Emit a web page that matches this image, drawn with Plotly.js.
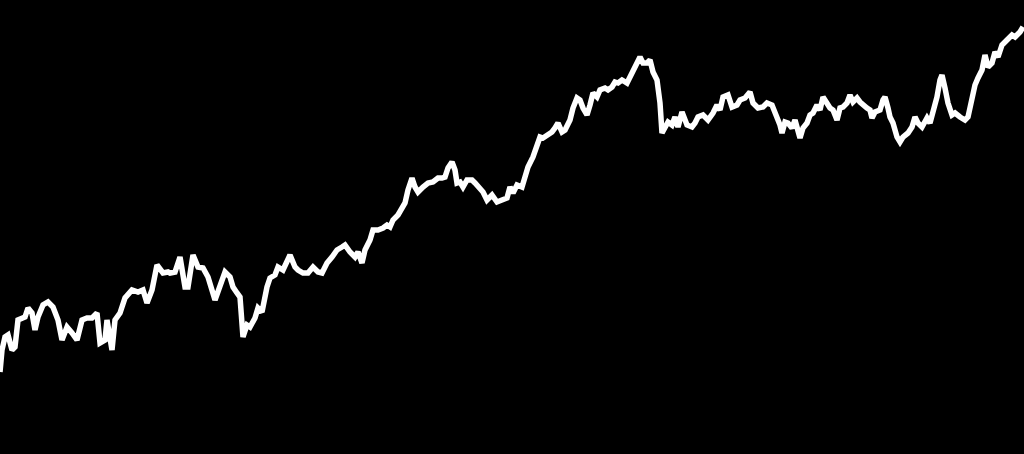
<!DOCTYPE html>
<html>
<head>
<meta charset="utf-8">
<script src="https://cdn.plot.ly/plotly-3.0.1.min.js"></script>
<style>html,body{margin:0;padding:0;background:#000;overflow:hidden;}#chart{width:1024px;height:454px;}</style>
</head>
<body>
<div id="chart"></div>
<script>
const days = [0,2,5,8,12,15,18,25,28,32,35,38,43,48,53,58,62,67,72,77,82,87,92,97,100,105,107,112,115,120,125,132,138,143,147,152,157,163,168,
170,175,180,185,188,193,198,203,208,215,220,225,230,233,237,240,243,247,250,255,258,262,267,270,275,278,283,290,295,298,303,308,313,318,322,327,332,337,342,
345,350,355,358,362,365,370,373,378,383,387,390,393,398,405,408,412,415,418,423,428,433,438,442,445,448,452,455,457,460,463,467,472,475,478,483,487,492,497,502,507,
510,513,517,522,525,528,533,537,540,543,547,552,555,558,562,565,570,573,577,580,583,587,590,593,597,600,605,608,612,615,618,622,627,630,633,637,640,643,647,650,653,657,660,662,665,668,672,675,678,
682,687,692,695,698,703,708,713,717,720,723,728,732,737,740,745,750,753,758,763,767,772,777,780,782,785,788,792,795,798,800,803,807,810,813,817,820,823,827,830,833,837,840,843,847,850,
853,857,860,863,867,870,872,875,880,883,885,888,890,893,897,900,903,908,912,915,918,922,927,930,933,937,940,942,945,948,952,955,960,965,968,972,975,978,982,985,988,992,995,998,1002,1007,1012,1015,1020,1023];
const values = [82,104,117,119,104,107,134,137,146,141,124,137,149,152,147,134,114,127,121,114,134,136,136,141,111,114,134,104,134,141,156,164,162,164,151,164,189,181,182,
181,182,197,167,167,199,187,186,177,154,167,182,177,167,161,157,117,129,127,136,146,142,167,176,179,187,184,199,187,184,181,181,187,182,181,191,197,204,207,
209,202,197,202,191,204,214,224,224,226,229,227,234,239,251,264,276,267,262,267,271,272,276,276,277,286,292,284,271,272,267,274,274,271,267,262,254,259,252,254,256,
267,261,269,267,277,287,297,309,317,316,319,322,326,331,322,324,334,346,356,354,346,339,349,361,357,364,366,364,367,372,371,374,371,377,384,392,397,391,391,394,382,374,351,321,327,332,329,337,327,
342,329,327,331,337,339,334,341,349,344,357,359,347,349,354,356,362,351,346,347,351,349,337,329,321,332,331,326,334,324,316,326,331,339,341,349,344,357,351,346,344,334,346,347,351,359,
352,356,352,349,346,344,336,342,344,354,357,346,337,331,317,312,317,321,327,337,331,327,336,331,341,357,374,379,366,351,339,341,337,334,337,357,369,376,384,399,387,391,402,397,409,414,419,417,422,427];

const trace = {
  x: days, y: values, type: 'scatter', mode: 'lines',
  line: {color: '#ffffff', width: 5.5, shape: 'linear'},
  hoverinfo: 'skip'
};
const layout = {
  width: 1024, height: 454,
  margin: {l: 0, r: 0, t: 0, b: 0, pad: 0},
  paper_bgcolor: '#000000', plot_bgcolor: '#000000',
  showlegend: false,
  xaxis: {range: [0, 1024], visible: false, fixedrange: true},
  yaxis: {range: [0, 454], visible: false, fixedrange: true}
};
Plotly.newPlot('chart', [trace], layout, {displayModeBar: false, staticPlot: true});
</script>
</body>
</html>
